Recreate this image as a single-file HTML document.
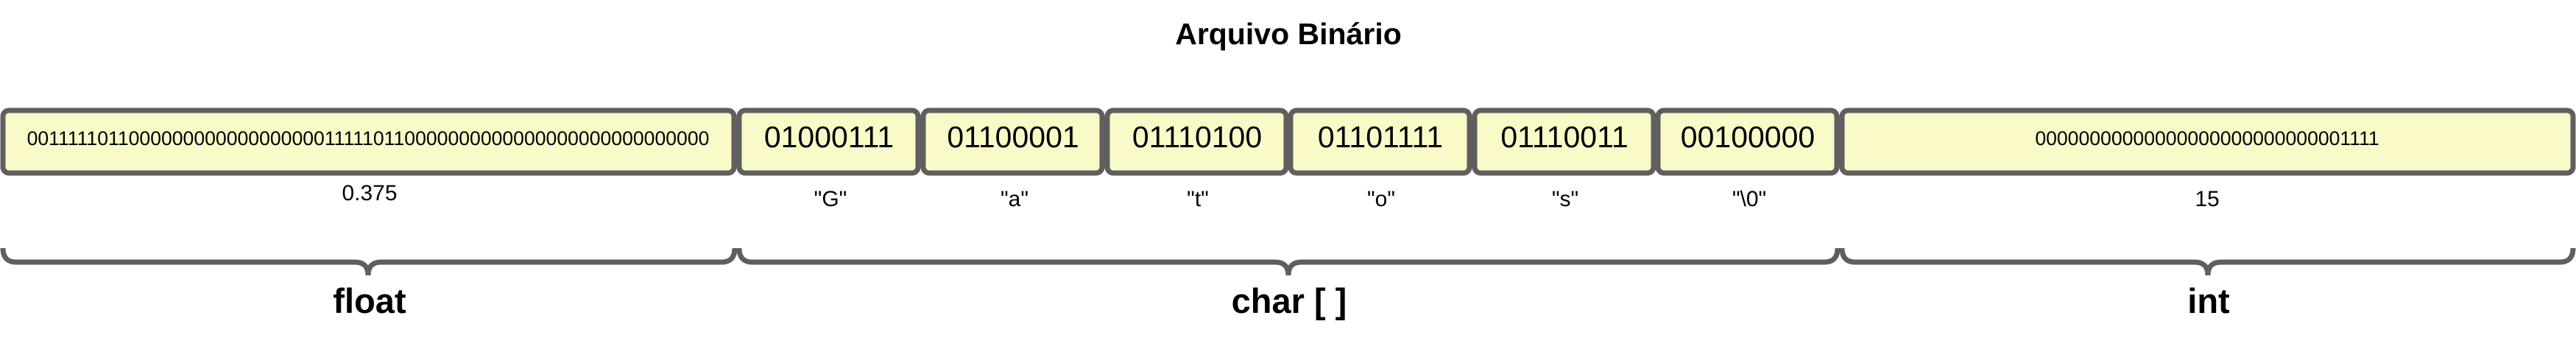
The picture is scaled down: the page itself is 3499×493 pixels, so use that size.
<!DOCTYPE html>
<html><head><meta charset="utf-8"><style>
html,body{margin:0;padding:0;background:#fff;}
body{width:3499px;height:488px;overflow:hidden;}
</style></head><body>
<svg width="3499" height="488" xmlns="http://www.w3.org/2000/svg" font-family="'Liberation Sans', sans-serif">
<text x="1750" y="60" font-size="41" font-weight="bold" text-anchor="middle">Arquivo Binário</text>
<g fill="#fafac8" stroke="#5f5f5f" stroke-width="7">
<rect x="4" y="150" width="993" height="85" rx="8"/>
<rect x="1004" y="150" width="243" height="85" rx="8"/>
<rect x="1254" y="150" width="243" height="85" rx="8"/>
<rect x="1504" y="150" width="243" height="85" rx="8"/>
<rect x="1753" y="150" width="243" height="85" rx="8"/>
<rect x="2003" y="150" width="243" height="85" rx="8"/>
<rect x="2252" y="150" width="243" height="85" rx="8"/>
<rect x="2502" y="150" width="993" height="85" rx="8"/>
</g>
<g font-size="26.6" text-anchor="middle">
<text x="500" y="197">0011111011000000000000000000111110110000000000000000000000000000</text>
<text x="2998" y="197">00000000000000000000000000001111</text>
</g>
<g font-size="41" text-anchor="middle">
<text x="1126" y="200">01000111</text>
<text x="1376" y="200">01100001</text>
<text x="1626" y="200">01110100</text>
<text x="1875" y="200">01101111</text>
<text x="2125" y="200">01110011</text>
<text x="2374" y="200">00100000</text>
</g>
<g font-size="30" text-anchor="middle">
<text x="502" y="272">0.375</text>
<text x="1128" y="280">"G"</text>
<text x="1378" y="280">"a"</text>
<text x="1627" y="280">"t"</text>
<text x="1876" y="280">"o"</text>
<text x="2126" y="280">"s"</text>
<text x="2376" y="280">"\0"</text>
<text x="2998" y="280">15</text>
</g>
<g fill="none" stroke="#5f5f5f" stroke-width="7">
<path d="M4,337 Q4,356 22,356 L482,356 Q500,356 500,374 Q500,356 518,356 L980,356 Q998,356 998,337"/>
<path d="M1004,337 Q1004,356 1022,356 L1732,356 Q1750,356 1750,374 Q1750,356 1768,356 L2478,356 Q2496,356 2496,337"/>
<path d="M2502,337 Q2502,356 2520,356 L2981,356 Q2999,356 2999,374 Q2999,356 3017,356 L3477,356 Q3495,356 3495,337"/>
</g>
<g font-size="47" font-weight="bold" text-anchor="middle">
<text x="502" y="425">float</text>
<text x="1751" y="425">char [ ]</text>
<text x="3000" y="425">int</text>
</g>
</svg>
</body></html>
